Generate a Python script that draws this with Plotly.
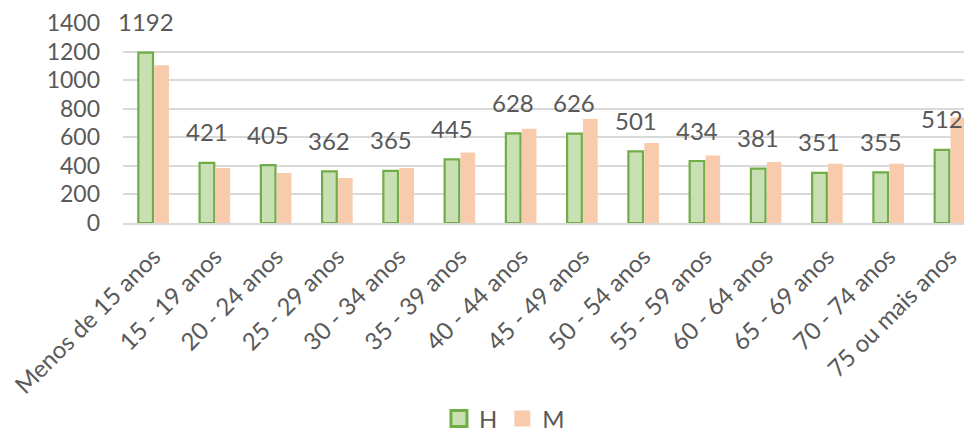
import plotly.graph_objects as go

categories = ["Menos de 15 anos", "15 - 19 anos", "20 - 24 anos", "25 - 29 anos",
              "30 - 34 anos", "35 - 39 anos", "40 - 44 anos", "45 - 49 anos",
              "50 - 54 anos", "55 - 59 anos", "60 - 64 anos", "65 - 69 anos",
              "70 - 74 anos", "75 ou mais anos"]
h_values = [1192, 421, 405, 362, 365, 445, 628, 626, 501, 434, 381, 351, 355, 512]
m_values = [1105, 385, 350, 315, 385, 494, 660, 728, 560, 473, 427, 415, 415, 739]
y_ticks = [0, 200, 400, 600, 800, 1000, 1200, 1400]

FONT = "Lato"
TXT = "#595959"
H_FILL, H_LINE = "#C9E0B5", "#70AD47"
M_FILL = "#F8CBAD"

fig = go.Figure()
fig.add_trace(go.Bar(
    name="H", x=categories, y=h_values, showlegend=False,
    marker=dict(color=H_FILL, line=dict(color=H_LINE, width=2.2)),
))
fig.add_trace(go.Bar(
    name="M", x=categories, y=m_values, showlegend=False,
    marker=dict(color=M_FILL, line=dict(width=0)),
))
# legend entries with larger square swatches
fig.add_trace(go.Scatter(
    name="H", x=[None], y=[None], mode="markers",
    marker=dict(symbol="square", size=18, color=H_FILL,
                line=dict(color=H_LINE, width=3)),
))
fig.add_trace(go.Scatter(
    name="M", x=[None], y=[None], mode="markers",
    marker=dict(symbol="square", size=16, color=M_FILL, line=dict(width=0)),
))

for c, v in zip(categories, h_values):
    fig.add_annotation(x=c, y=v, text=str(v), showarrow=False,
                       xshift=-8, yshift=31, yanchor="middle",
                       font=dict(family=FONT, size=24, color=TXT))

fig.update_layout(
    width=964, height=427,
    margin=dict(l=115, r=0, t=15, b=212, autoexpand=False),
    paper_bgcolor="white", plot_bgcolor="white",
    barmode="group", bargap=0.48, bargroupgap=0.08,
    font=dict(family=FONT, size=22, color=TXT),
    showlegend=True,
    legend=dict(orientation="h", x=0.515, xanchor="center", xref="container",
                y=-0.98, yanchor="middle", yref="paper",
                font=dict(family=FONT, size=24, color=TXT),
                itemsizing="trace", itemwidth=30, traceorder="normal"),
    xaxis=dict(tickangle=-45, range=[-0.5, 13.36], showgrid=False,
               automargin=False, ticklabelstandoff=8,
               showline=True, linecolor="#D9D9D9", linewidth=2,
               tickfont=dict(family=FONT, size=24, color=TXT)),
    yaxis=dict(range=[0, 1400], tickvals=y_ticks, showgrid=True,
               automargin=False,
               gridcolor="#D9D9D9", gridwidth=2, zeroline=False,
               ticklabelstandoff=22,
               tickfont=dict(family=FONT, size=23, color=TXT)),
)

fig.write_html("out.html")
